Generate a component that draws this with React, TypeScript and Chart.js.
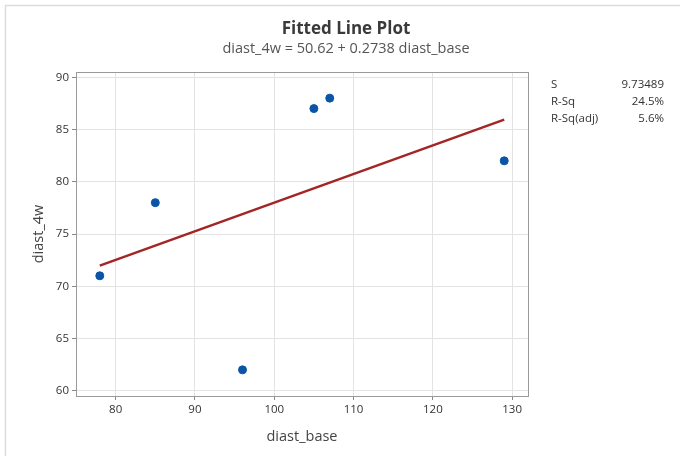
import React, { useEffect, useRef } from "react";
import { Chart, registerables } from "chart.js";

Chart.register(...registerables);

const diastBase = [78, 85, 96, 105, 107, 129];
const diast4w = [71, 78, 62, 87, 88, 82];
const fitX = [78, 129];
const fitY = [71.98, 85.94];
const xTicks = [80, 90, 100, 110, 120, 130];
const yTicks = [60, 65, 70, 75, 80, 85, 90];
const statLabels = ["S", "R-Sq", "R-Sq(adj)"];
const statValues = ["9.73489", "24.5%", "5.6%"];
const titleText = "Fitted Line Plot";
const subtitleText = "diast_4w = 50.62 + 0.2738 diast_base";
const FONT = "'Open Sans', 'Noto Sans', sans-serif";

const decorPlugin = {
  id: "decor",
  afterDraw(chart: any) {
    const { ctx, chartArea } = chart;
    ctx.save();
    // outer frame
    ctx.strokeStyle = "#dcdcdc";
    ctx.lineWidth = 1.5;
    ctx.beginPath();
    ctx.moveTo(5.5, 456);
    ctx.lineTo(5.5, 5.5);
    ctx.lineTo(680, 5.5);
    ctx.stroke();
    // plot border
    ctx.strokeStyle = "#9a9a9a";
    ctx.lineWidth = 1;
    ctx.strokeRect(
      Math.round(chartArea.left) + 0.5,
      Math.round(chartArea.top) + 0.5,
      Math.round(chartArea.right - chartArea.left),
      Math.round(chartArea.bottom - chartArea.top)
    );
    // titles
    ctx.textAlign = "center";
    ctx.textBaseline = "middle";
    ctx.fillStyle = "#3a3a3a";
    ctx.font = `bold 17px ${FONT}`;
    ctx.fillText(titleText, 346, 29);
    ctx.fillStyle = "#555555";
    ctx.font = `14.5px ${FONT}`;
    ctx.fillText(subtitleText, 346, 49);
    // stats
    ctx.font = `11.5px ${FONT}`;
    ctx.fillStyle = "#333333";
    statLabels.forEach((l, i) => {
      const y = 85 + i * 17;
      ctx.textAlign = "left";
      ctx.fillText(l, 551, y);
      ctx.textAlign = "right";
      ctx.fillText(statValues[i], 664, y);
    });
    ctx.restore();
  },
};

export default function App() {
  const ref = useRef<HTMLCanvasElement | null>(null);
  useEffect(() => {
    if (!ref.current) return;
    const chart = new Chart(ref.current, {
      type: "scatter",
      data: {
        datasets: [
          {
            type: "line",
            label: "Fit",
            data: fitX.map((x, i) => ({ x, y: fitY[i] })),
            borderColor: "#a32626",
            borderWidth: 2.5,
            pointRadius: 0,
            fill: false,
            order: 2,
          } as any,
          {
            label: "Data",
            data: diastBase.map((x, i) => ({ x, y: diast4w[i] })),
            backgroundColor: "#0a55a5",
            borderColor: "#0a55a5",
            pointRadius: 4,
            order: 1,
          },
        ],
      },
      options: {
        animation: false,
        responsive: true,
        maintainAspectRatio: false,
        layout: { padding: { left: 0, top: 72, right: 152, bottom: 0 } },
        plugins: { legend: { display: false }, tooltip: { enabled: false } },
        scales: {
          x: {
            type: "linear",
            min: 75,
            max: 132,
            afterFit: (s: any) => {
              s.height = 60;
            },
            afterBuildTicks: (s: any) => {
              s.ticks = xTicks.map((v) => ({ value: v }));
            },
            ticks: {
              color: "#333",
              font: { family: FONT, size: 11.5 },
              padding: 3,
            },
            grid: { color: "#e3e3e3", tickColor: "#888", tickLength: 4 },
            border: { color: "#9a9a9a" },
            title: {
              display: true,
              text: "diast_base",
              color: "#444",
              font: { family: FONT, size: 14.5 },
              padding: { top: 4, bottom: 10 },
            },
          },
          y: {
            type: "linear",
            min: 59.5,
            max: 90.5,
            afterFit: (s: any) => {
              s.width = 76;
            },
            afterBuildTicks: (s: any) => {
              s.ticks = yTicks.map((v) => ({ value: v }));
            },
            ticks: {
              color: "#333",
              font: { family: FONT, size: 11.5 },
              padding: 3,
            },
            grid: { color: "#e3e3e3", tickColor: "#888", tickLength: 4 },
            border: { color: "#9a9a9a" },
            title: {
              display: true,
              text: "diast_4w",
              color: "#444",
              font: { family: FONT, size: 14.5 },
              padding: { top: 30, bottom: 4 },
            },
          },
        },
      },
      plugins: [decorPlugin],
    });
    return () => chart.destroy();
  }, []);
  return (
    <div style={{ position: "fixed", left: 0, top: 0, width: 680, height: 456, background: "#fff" }}>
      <canvas ref={ref} />
    </div>
  );
}
